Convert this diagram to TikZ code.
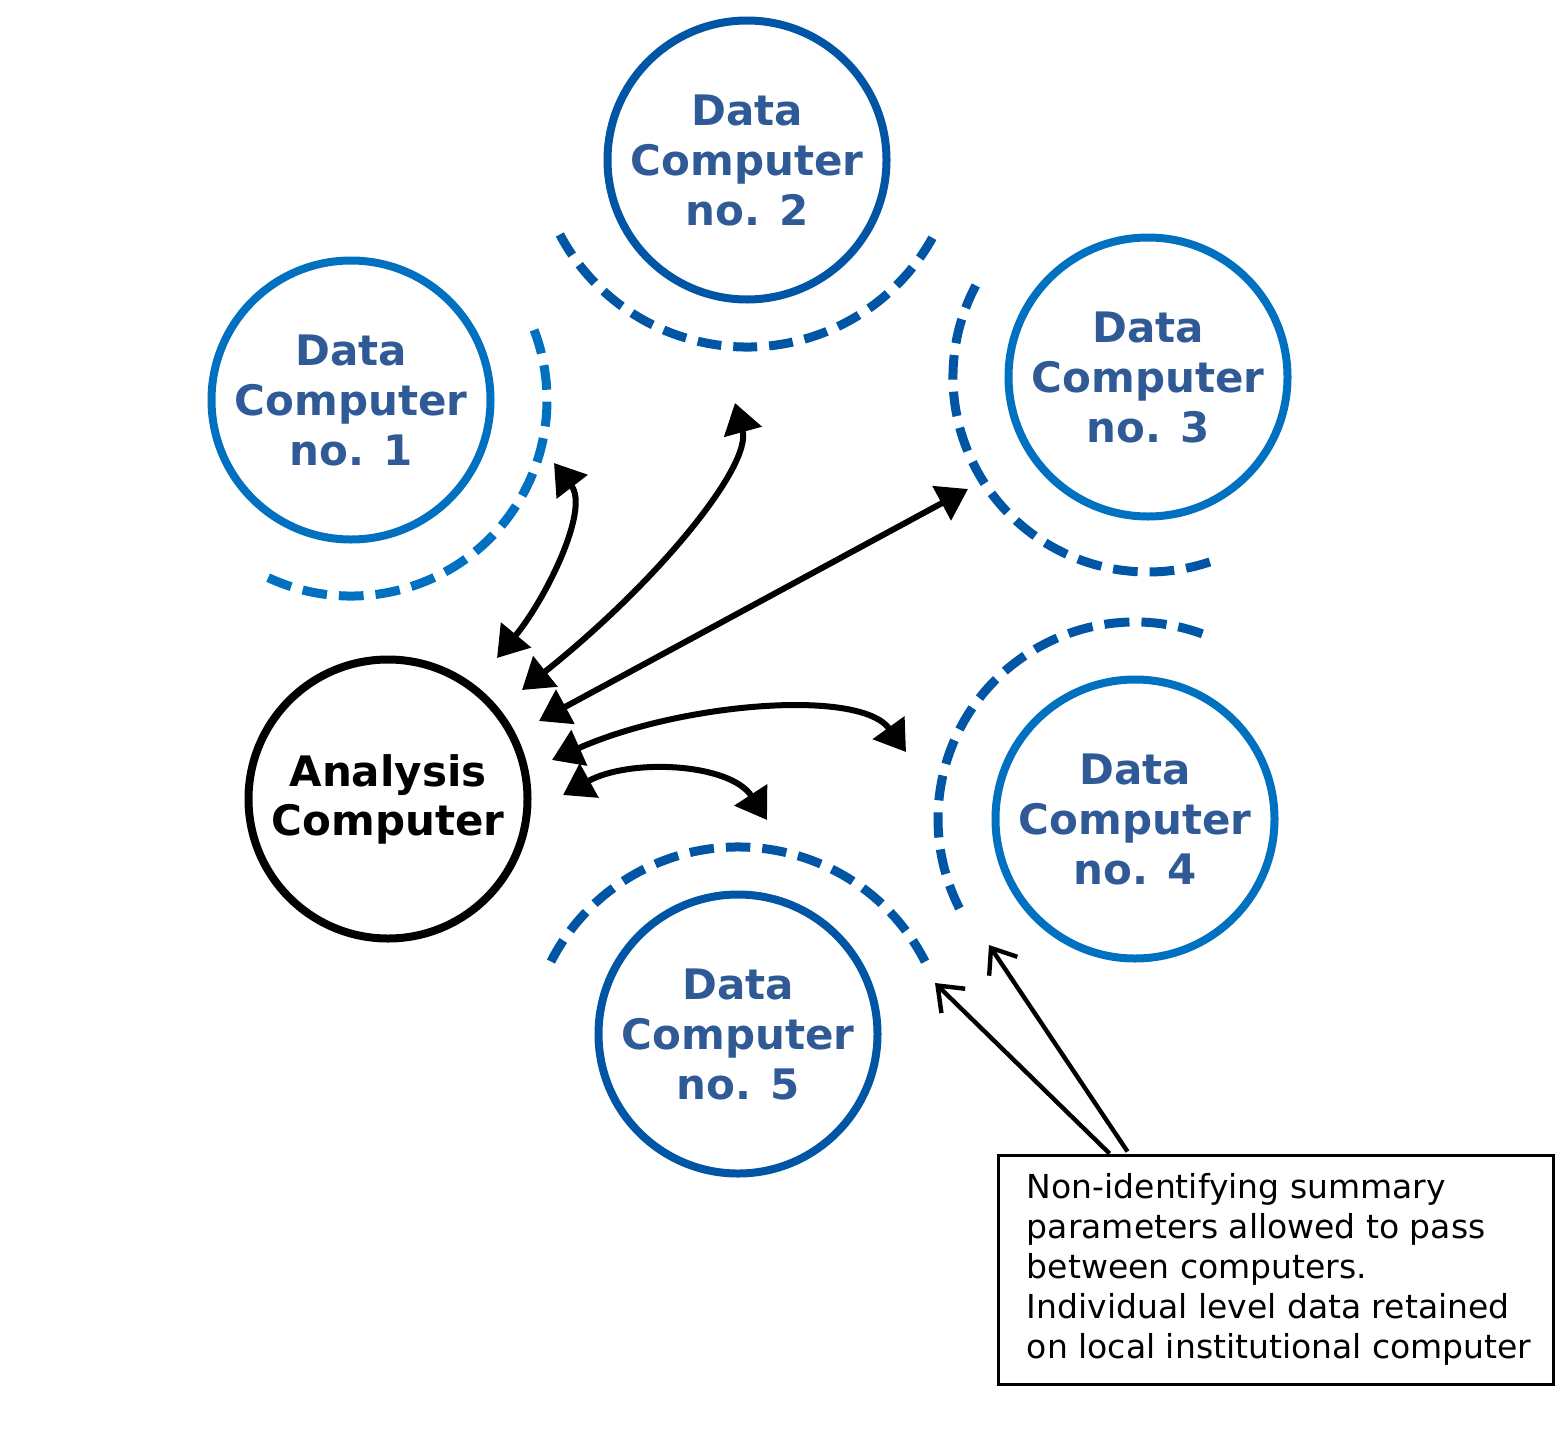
\documentclass[tikz,border=0pt]{standalone}
\usepackage{fontspec}
\setmainfont{DejaVu Sans}
\usetikzlibrary{arrows.meta,calc}
\definecolor{lblue}{HTML}{0070C0}
\definecolor{dblue}{HTML}{0055A5}
\definecolor{tblue}{HTML}{2F5A96}
\begin{document}
\begin{tikzpicture}[x=0.5pt,y=-0.5pt,
  dc/.style={circle, draw, line width=4pt, minimum size=139.5pt, inner sep=0pt,
    text=tblue, font=\fontsize{21pt}{25pt}\selectfont\bfseries, align=center},
  ancirc/.style={circle, draw=black, line width=4pt, minimum size=139.5pt, inner sep=0pt,
    text=black, font=\fontsize{21pt}{24.5pt}\selectfont\bfseries, align=center},
  ring/.style={line width=4.5pt, dash pattern=on #1 off 6pt},
  conn/.style={line width=3pt, {Triangle[length=15pt,width=19pt]}-{Triangle[length=15pt,width=19pt]}},
  ptr/.style={line width=2.2pt, -{Straight Barb[length=11pt,width=17pt]}},
  notebox/.style={draw=black, line width=1.6pt, minimum width=277.5pt, minimum height=114.5pt, inner sep=0pt},
  notetext/.style={align=left, inner sep=0pt, font=\fontsize{16.5pt}{20pt}\selectfont}
]
\useasboundingbox (0,0) rectangle (1567,1434);

% computers
\node[dc, draw=lblue] (c1) at (351,400) {Data\\Computer\\no. 1};
\node[dc, draw=dblue] (c2) at (747,160) {Data\\Computer\\no. 2};
\node[dc, draw=lblue] (c3) at (1148,377) {Data\\Computer\\no. 3};
\node[dc, draw=lblue] (c4) at (1135,819) {Data\\Computer\\no. 4};
\node[dc, draw=dblue] (c5) at (738,1034) {Data\\Computer\\no. 5};
\node[ancirc] (an) at (388,799) {Analysis\\Computer};

% dashed rings
\draw[ring=12.35pt, lblue] ($(c1)+(115:196)$) arc[start angle=115, end angle=-21, radius=196];
\draw[ring=11.97pt, dblue] ($(c2)+(0,-25)+(152:212)$) arc[start angle=152, end angle=29, radius=212];
\draw[ring=12.33pt, dblue] ($(c3)+(-152:195)$) arc[start angle=-152, end angle=-288.5, radius=195];
\draw[ring=12.58pt, dblue] ($(c4)+(-70:197)$) arc[start angle=-70, end angle=-207, radius=197];
\draw[ring=12.22pt, dblue] ($(c5)+(0,23)+(-27:210)$) arc[start angle=-27, end angle=-153, radius=210];

% connector ends
\coordinate (s1) at (497,658); \coordinate (e1) at (554,463);
\coordinate (s2) at (522,690); \coordinate (e2) at (735,403);
\coordinate (s3) at (539,721); \coordinate (e3) at (968,489);
\coordinate (s4) at (552,760); \coordinate (e4) at (906,752);
\coordinate (s5) at (563,795); \coordinate (e5) at (767,820);

\draw[conn] (s1) .. controls (545,600) and (590,510) .. (e1);
\draw[conn] (s2) .. controls (660,580) and (752,465) .. (e2);
\draw[conn] (s3) -- (e3);
\draw[conn] (s4) .. controls (680,703) and (860,688) .. (e4);
\draw[conn] (s5) .. controls (630,758) and (730,763) .. (e5);

% note
\node[notebox, anchor=north west] (note) at (996.5,1153.5) {};
\node[notetext, anchor=west] (notetxt) at ($(note.west)+(15pt,0)$)
  {Non-identifying summary\\parameters allowed to pass\\between computers.\\Individual level data retained\\on local institutional computer};

\coordinate (p1) at ($(note.north west)+(113,0)$);
\coordinate (p2) at ($(note.north west)+(131,-2)$);
\coordinate (t1) at (935,983);
\coordinate (t2) at (989,945);
\draw[ptr] (p1) -- (t1);
\draw[ptr] (p2) -- (t2);
\end{tikzpicture}
\end{document}
